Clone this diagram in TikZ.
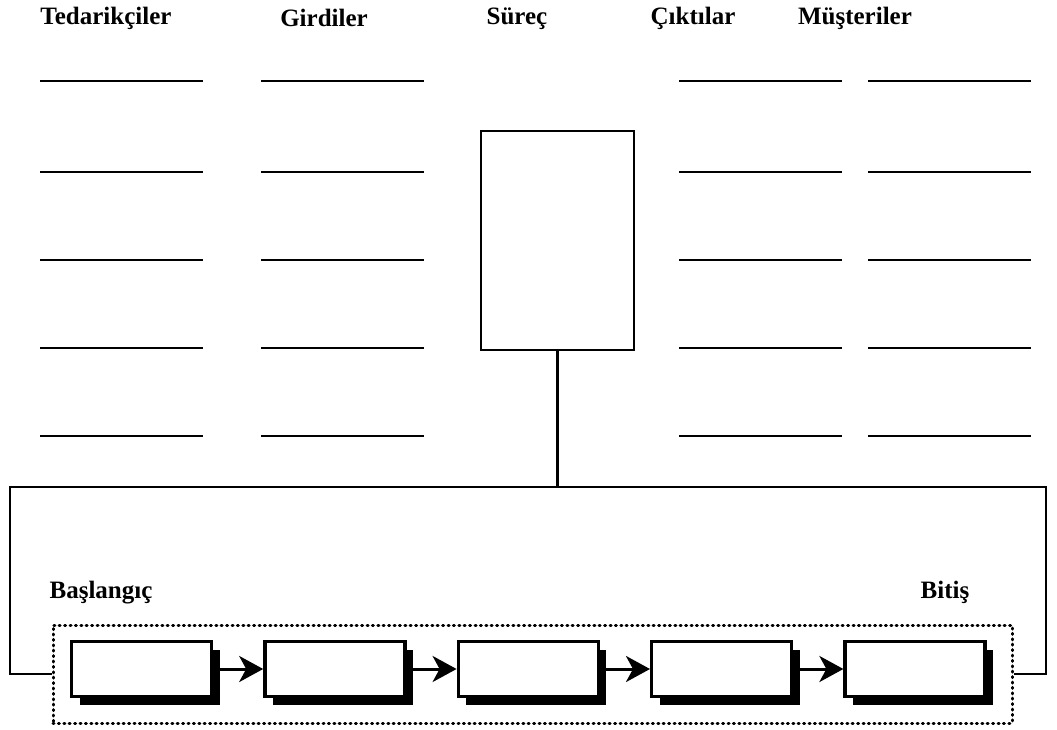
\documentclass[tikz,border=0pt]{standalone}
\usepackage{fontspec}
\setmainfont{Liberation Serif}
\usetikzlibrary{arrows.meta, positioning, fit, shadows}

\begin{document}
\begin{tikzpicture}[
        x=1pt, y=-1pt,
        node distance=50pt,
        baslik/.style={font=\fontsize{25}{28}\selectfont\bfseries, anchor=base, inner sep=0pt},
        bosluk/.style={line width=2pt},
        cizgi/.style={line width=2.2pt},
        adim/.style={rectangle, draw, line width=3.4pt, fill=white, minimum width=140pt, minimum height=55pt,
            drop shadow={shadow xshift=8pt, shadow yshift=-8pt, fill=black, opacity=1}},
        ok/.style={-{Stealth[length=24pt, width=26pt, inset=7pt]}, line width=3pt}
    ]
        \useasboundingbox (0,0) rectangle (1057,730);

        % column headings
        \node[baslik] (ted) at (106,25) {Tedarikçiler};
        \node[baslik] (gir) at (324,27) {Girdiler};
        \node[baslik] (sur) at (517,25) {Süreç};
        \node[baslik] (cik) at (693,25) {Çıktılar};
        \node[baslik] (mus) at (855,25) {Müşteriler};

        % blank lines to fill in
        \foreach \x in {40,261,679,868}
            \foreach \y in {81,172,260,348,436}
                \draw[bosluk] (\x,\y) -- ++(163,0);

        \node[draw, line width=1.8pt, minimum width=153pt, minimum height=219pt] (surec) at (557.5,240.5) {};

        % process steps
        \node[adim] (a1) at (141.5,669) {};
        \node[adim, right=of a1] (a2) {};
        \node[adim, right=of a2] (a3) {};
        \node[adim, right=of a3] (a4) {};
        \node[adim, right=of a4] (a5) {};

        \draw[ok] (a1) -- (a2);
        \draw[ok] (a2) -- (a3);
        \draw[ok] (a3) -- (a4);
        \draw[ok] (a4) -- (a5);

        \node[draw, line width=3pt, line cap=round, dash pattern=on 1pt off 4.4pt, inner sep=0pt,
            fit={(53,625) (1012,723)}] (akis) {};

        \node[baslik] (bas) at (101,598) {Başlangıç};
        \node[baslik] (bit) at (945,598) {Bitiş};

        % connection between process box and steps
        \coordinate (solust) at (10,487);
        \coordinate (sagust) at (1046,487);
        \draw[cizgi] (surec.south) -- (surec.south |- solust);
        \draw[cizgi] (akis.west) -| (solust) -- (sagust) |- (akis.east);
    \end{tikzpicture}
\end{document}
